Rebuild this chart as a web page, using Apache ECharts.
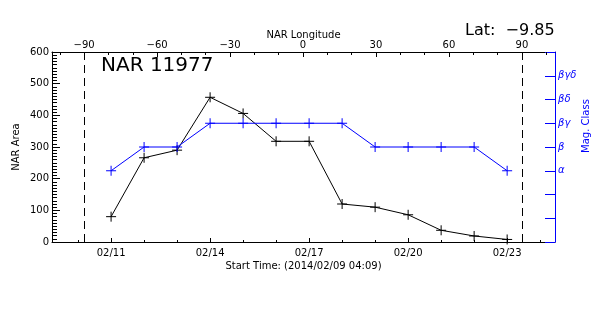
<!DOCTYPE html>
<html>
<head>
<meta charset="utf-8">
<script src="https://cdn.jsdelivr.net/npm/echarts@6/dist/echarts.min.js"></script>
<style>
html,body{margin:0;padding:0;background:#fff}
#main{width:600px;height:315px}
</style>
</head>
<body>
<div id="main"></div>
<script>
// dates of the points (x = day index from 02/11)
var days = ['02/11','02/12','02/13','02/14','02/15','02/16','02/17','02/18','02/19','02/20','02/21','02/22','02/23'];
var narArea = [80, 266, 290, 457, 406, 318, 318, 120, 110, 86, 37, 19, 8];
var magClass = [3, 4, 4, 5, 5, 5, 5, 5, 4, 4, 4, 4, 3];
var magNames = ['', '', '', 'α', 'β', 'βγ', 'βδ', 'βγδ', ''];
var timeLabels = ['02/11','02/14','02/17','02/20','02/23'];
var dayTicks = [-1,0,1,2,3,4,5,6,7,8,9,10,11,12,13];
var lonLabels = [-90,-60,-30,0,30,60,90];
var lonTicks = [-100,-90,-80,-70,-60,-50,-40,-30,-20,-10,0,10,20,30,40,50,60,70,80,90,100];
var limbLon = [-90, 90];

var BLUE = '#0000ff';
var FONT = 'DejaVu Sans';
var cross = 'path://M0,5L10,5M5,0L5,10';

var labelIdx = timeLabels.map(function(t){ return days.indexOf(t); });
// minor ticks of the area axis, every 10
var areaMinor = [];
for (var a = 0; a <= 600; a += 10) areaMinor.push(a);

function pts(vals){
  return vals.map(function(v,i){ return [i, v]; });
}
function minus(v){ return v < 0 ? '\u2212' + (-v) : '' + v; }

var tMin = -1.79, tMax = 13.45;
var lMin = -103.2, lMax = 103.6;

var myChart = echarts.init(document.getElementById('main'));
var option = {
  animation: false,
  backgroundColor: '#fff',
  grid: {left: 52, right: 45, top: 52, bottom: 73},
  xAxis: [
    { // time, major ticks + labels
      type: 'value', position: 'bottom', min: tMin, max: tMax,
      axisLine: {onZero: false, lineStyle: {color: '#000', width: 1}},
      axisTick: {inside: true, length: 4, customValues: labelIdx, lineStyle: {color: '#000'}},
      axisLabel: {customValues: labelIdx, margin: 6, color: '#000', fontFamily: FONT, fontSize: 10,
        formatter: function(v){ return days[Math.round(v)]; }},
      splitLine: {show: false},
      name: 'Start Time: (2014/02/09 04:09)', nameLocation: 'middle', nameGap: 19, nameMoveOverlap: false,
      nameTextStyle: {color: '#000', fontFamily: FONT, fontSize: 10}
    },
    { // time, daily ticks
      type: 'value', position: 'bottom', min: tMin, max: tMax,
      axisLine: {show: false, onZero: false},
      axisTick: {inside: true, length: 2, customValues: dayTicks, lineStyle: {color: '#000'}},
      axisLabel: {show: false},
      splitLine: {show: false}
    },
    { // longitude, major
      type: 'value', position: 'top', min: lMin, max: lMax,
      axisLine: {onZero: false, lineStyle: {color: '#000', width: 1}},
      axisTick: {inside: true, length: 5, customValues: lonLabels, lineStyle: {color: '#000'}},
      axisLabel: {customValues: lonLabels, margin: 2, color: '#000', fontFamily: FONT, fontSize: 10, formatter: minus},
      splitLine: {show: false},
      name: 'NAR Longitude', nameLocation: 'middle', nameGap: 12, nameMoveOverlap: false,
      nameTextStyle: {color: '#000', fontFamily: FONT, fontSize: 10}
    },
    { // longitude, minor
      type: 'value', position: 'top', min: lMin, max: lMax,
      axisLine: {show: false, onZero: false},
      axisTick: {inside: true, length: 3, customValues: lonTicks, lineStyle: {color: '#000'}},
      axisLabel: {show: false},
      splitLine: {show: false}
    }
  ],
  yAxis: [
    {
      type: 'value', position: 'left', min: 0, max: 600, interval: 100,
      axisLine: {onZero: false, lineStyle: {color: '#000', width: 1}},
      axisTick: {inside: true, length: 8, lineStyle: {color: '#000'}},
      axisLabel: {margin: 3, color: '#000', fontFamily: FONT, fontSize: 10},
      splitLine: {show: false},
      name: 'NAR Area', nameLocation: 'middle', nameGap: 31, nameMoveOverlap: false,
      nameTextStyle: {color: '#000', fontFamily: FONT, fontSize: 10}
    },
    {
      type: 'value', position: 'right', min: 0, max: 8, interval: 1,
      axisLine: {onZero: false, lineStyle: {color: BLUE, width: 1}},
      axisTick: {inside: true, length: 10, lineStyle: {color: BLUE}},
      axisLabel: {margin: 3, color: BLUE, fontFamily: FONT, fontSize: 10, fontStyle: 'italic',
        formatter: function(v){ return magNames[v] || ''; }},
      splitLine: {show: false}
    },
    { // area minor ticks
      type: 'value', position: 'left', min: 0, max: 600,
      axisLine: {show: false, onZero: false},
      axisTick: {inside: true, length: 5, customValues: areaMinor, lineStyle: {color: '#000'}},
      axisLabel: {show: false},
      splitLine: {show: false}
    }
  ],
  graphic: [
    {type: 'text', x: 101, y: 66, style: {text: 'NAR 11977', font: '20px "DejaVu Sans"', fill: '#000', textVerticalAlign: 'middle'}},
    {type: 'text', x: 465, y: 31, style: {text: 'Lat:  \u22129.85', font: '16px "DejaVu Sans"', fill: '#000', textVerticalAlign: 'middle'}},
    {type: 'text', x: 586, y: 126, rotation: Math.PI / 2,
      style: {text: 'Mag. Class', font: '10px "DejaVu Sans"', fill: BLUE, textAlign: 'center', textVerticalAlign: 'middle'}}
  ],
  series: [
    {
      type: 'line', xAxisIndex: 2, yAxisIndex: 0, data: [],
      markLine: {
        silent: true, symbol: 'none', label: {show: false},
        lineStyle: {color: '#000', width: 1, type: [8, 5]},
        data: limbLon.map(function(l){ return {xAxis: l}; })
      }
    },
    {
      name: 'area', type: 'line', xAxisIndex: 0, yAxisIndex: 0,
      data: pts(narArea), showAllSymbol: true,
      symbol: cross, symbolSize: 10,
      lineStyle: {color: '#000', width: 1},
      itemStyle: {color: '#000', borderColor: '#000', borderWidth: 1}
    },
    {
      name: 'mag', type: 'line', xAxisIndex: 0, yAxisIndex: 1,
      data: pts(magClass), showAllSymbol: true,
      symbol: cross, symbolSize: 10,
      lineStyle: {color: BLUE, width: 1},
      itemStyle: {color: BLUE, borderColor: BLUE, borderWidth: 1}
    }
  ]
};
myChart.setOption(option);
</script>
</body>
</html>
